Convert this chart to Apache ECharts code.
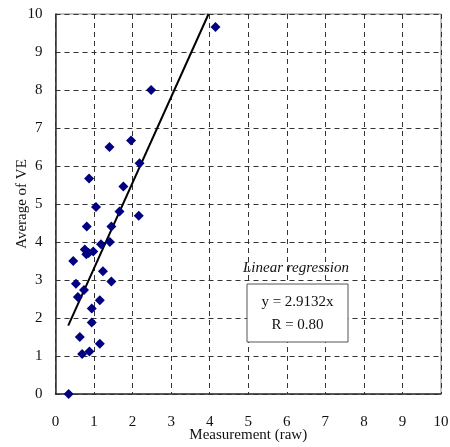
<!DOCTYPE html>
<html>
<head>
<meta charset="utf-8">
<script src="https://cdn.jsdelivr.net/npm/echarts@6/dist/echarts.min.js"></script>
<style>
  html, body { margin: 0; padding: 0; background: #fff; }
  #chart { width: 450px; height: 447px; }
</style>
</head>
<body>
<div id="chart"></div>
<script>
// scatter of VE average vs raw measurement, with a fitted line
const measurement = [4.15, 2.48, 1.96, 1.40, 2.18, 0.87, 1.76, 1.05, 1.66, 2.16, 0.81, 1.45,
  1.18, 1.41, 0.76, 0.86, 0.98, 0.80, 0.46, 1.23, 1.45, 0.53, 0.74, 0.58, 1.15, 0.94,
  0.94, 0.63, 1.15, 0.69, 0.88, 0.34];
const averageVE = [9.66, 8.0, 6.67, 6.5, 6.07, 5.67, 5.46, 4.92, 4.8, 4.69, 4.41, 4.41,
  3.94, 4.0, 3.80, 3.71, 3.75, 3.68, 3.5, 3.23, 2.96, 2.9, 2.74, 2.55, 2.47, 2.25,
  1.88, 1.5, 1.32, 1.05, 1.12, 0.0];
const fitX = [0.33, 3.97];
const fitY = [1.8, 10];
const equationText = 'y = 2.9132x';
const rText = 'R = 0.80';

const points = measurement.map((x, i) => [x, averageVE[i]]);
const fitLine = fitX.map((x, i) => [x, fitY[i]]);

const serif = '"Liberation Serif", "DejaVu Serif", serif';
const dashed = { show: true, lineStyle: { color: '#333', type: [5, 4], width: 1 } };

var myChart = echarts.init(document.getElementById('chart'));
const option = {
    backgroundColor: '#fff',
    animation: false,
    grid: {
        left: 55.5, right: 9, top: 14, bottom: 53,
        outerBoundsMode: 'none',
        containLabel: false,
        show: true, borderColor: '#888', borderWidth: 1
    },
    xAxis: {
        type: 'value', min: 0, max: 10, interval: 1,
        name: 'Measurement (raw)', nameLocation: 'middle', nameGap: 34,
        nameMoveOverlap: false,
        nameTextStyle: { fontFamily: serif, fontSize: 15, color: '#111' },
        axisLine: { show: true, onZero: false, lineStyle: { color: '#333', width: 1.5 } },
        axisTick: { show: false },
        axisLabel: { fontFamily: serif, fontSize: 15, color: '#111', margin: 21 },
        splitLine: dashed
    },
    yAxis: {
        type: 'value', min: 0, max: 10, interval: 1,
        name: 'Average of VE', nameLocation: 'middle', nameGap: 26,
        nameMoveOverlap: false,
        nameTextStyle: { fontFamily: serif, fontSize: 15, color: '#111' },
        axisLine: { show: true, onZero: false, lineStyle: { color: '#333', width: 1.5 } },
        axisTick: { show: false },
        axisLabel: { fontFamily: serif, fontSize: 15, color: '#111', margin: 13 },
        splitLine: dashed
    },
    series: [
        {
            name: 'fit',
            type: 'line',
            data: fitLine,
            symbol: 'none',
            lineStyle: { color: '#000', width: 2 },
            z: 3
        },
        {
            name: 'VE',
            type: 'scatter',
            data: points,
            symbol: 'diamond',
            symbolSize: [10, 10],
            itemStyle: { color: '#000080', opacity: 1 },
            z: 4
        }
    ],
    graphic: [
        {
            type: 'text', z: 11,
            style: { x: 296, y: 268, text: 'Linear regression', font: 'italic 15px ' + serif, fill: '#111', align: 'center', verticalAlign: 'middle' }
        },
        {
            type: 'rect', shape: { x: 247, y: 284, width: 101, height: 58 },
            style: { fill: '#fff', stroke: '#555', lineWidth: 1 }, z: 10
        },
        {
            type: 'text', z: 11,
            style: { x: 297.5, y: 302, text: equationText, font: '15px ' + serif, fill: '#111', align: 'center', verticalAlign: 'middle' }
        },
        {
            type: 'text', z: 11,
            style: { x: 297.5, y: 325, text: rText, font: '15px ' + serif, fill: '#111', align: 'center', verticalAlign: 'middle' }
        }
    ]
};
option && myChart.setOption(option);
window.onresize = () => { myChart.resize(); };
</script>
</body>
</html>
